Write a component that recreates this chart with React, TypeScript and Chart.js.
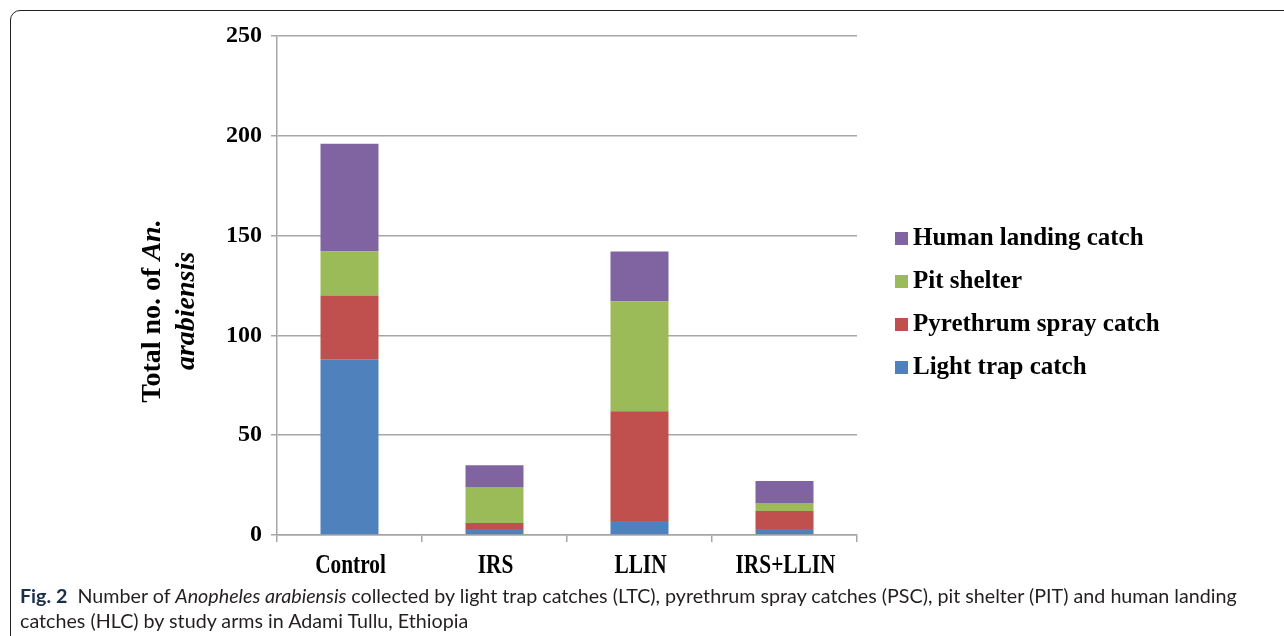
import React, { useEffect, useRef } from "react";
import { Chart, registerables } from "chart.js";

Chart.register(...registerables);

const categories = ["Control", "IRS", "LLIN", "IRS+LLIN"];
const lightTrapCatch = [88, 3, 7, 3];
const pyrethrumSprayCatch = [32, 3, 55, 9];
const pitShelter = [22, 18, 55, 4];
const humanLandingCatch = [54, 11, 25, 11];
const seriesNames = ["Light trap catch", "Pyrethrum spray catch", "Pit shelter", "Human landing catch"];
const seriesColors = ["#4F81BD", "#C0504D", "#9BBB59", "#8064A2"];
const yMax = 250;
const yStep = 50;

const SERIF = "'Liberation Serif', 'Times New Roman', serif";

const customTextPlugin = {
  id: "customText",
  afterDraw(chart: any) {
    const ctx = chart.ctx as CanvasRenderingContext2D;
    ctx.save();
    ctx.fillStyle = "#000";
    // Y axis title, two lines, mixed styles
    const lines = [
      [
        { t: "Total no. of ", f: `bold 28px ${SERIF}` },
        { t: "An.", f: `italic bold 28px ${SERIF}` },
      ],
      [{ t: "arabiensis", f: `italic bold 28px ${SERIF}` }],
    ];
    const xs = [153, 187];
    const cy = 311;
    lines.forEach((parts, li) => {
      let total = 0;
      parts.forEach((p) => {
        ctx.font = p.f;
        total += ctx.measureText(p.t).width;
      });
      ctx.save();
      ctx.translate(xs[li], cy);
      ctx.rotate(-Math.PI / 2);
      ctx.textBaseline = "middle";
      ctx.textAlign = "left";
      let x = -total / 2;
      parts.forEach((p) => {
        ctx.font = p.f;
        ctx.fillText(p.t, x, 0);
        x += ctx.measureText(p.t).width;
      });
      ctx.restore();
    });
    // X category labels (condensed, as in the reference)
    const xs2 = chart.scales.x;
    ctx.font = `bold 27px ${SERIF}`;
    ctx.textAlign = "center";
    ctx.textBaseline = "alphabetic";
    (chart.data.labels as string[]).forEach((lab, i) => {
      const px = xs2.getPixelForValue(i);
      ctx.save();
      ctx.translate(px + 1, 573);
      ctx.scale(0.79, 1);
      ctx.fillText(lab, 0, 0);
      ctx.restore();
    });
    // Legend (reversed order)
    const ds = chart.data.datasets;
    ctx.font = `bold 25px ${SERIF}`;
    ctx.textBaseline = "alphabetic";
    ctx.textAlign = "left";
    for (let i = ds.length - 1; i >= 0; i--) {
      const row = ds.length - 1 - i;
      const base = 245 + row * 43;
      ctx.fillStyle = ds[i].backgroundColor;
      ctx.fillRect(895, base - 13, 13, 13);
      ctx.fillStyle = "#000";
      ctx.fillText(ds[i].label, 913, base);
    }
    ctx.restore();
  },
};

export default function App() {
  const ref = useRef<HTMLCanvasElement | null>(null);

  useEffect(() => {
    document.body.style.margin = "0";
    const canvas = ref.current;
    if (!canvas) return;
    const values = [lightTrapCatch, pyrethrumSprayCatch, pitShelter, humanLandingCatch];
    const chart = new Chart(canvas, {
      type: "bar",
      data: {
        labels: categories,
        datasets: values.map((v, i) => ({
          label: seriesNames[i],
          data: v,
          backgroundColor: seriesColors[i],
          borderWidth: 0,
          barPercentage: 0.4,
          categoryPercentage: 1.0,
        })),
      },
      options: {
        responsive: false,
        animation: false,
        devicePixelRatio: 1,
        layout: { padding: { left: 0, right: 427, top: 36, bottom: 0 } },
        plugins: {
          legend: { display: false },
          tooltip: { enabled: false },
          title: { display: false },
        },
        scales: {
          x: {
            stacked: true,
            afterFit: (scale: any) => {
              scale.height = 101;
            },
            grid: {
              offset: true,
              drawOnChartArea: false,
              drawTicks: true,
              tickLength: 7,
              color: "#a6a6a6",
              lineWidth: 1.5,
            },
            border: { color: "#a6a6a6", width: 1.5 },
            ticks: {
              display: false,
            },
          },
          y: {
            stacked: true,
            min: 0,
            max: yMax,
            afterFit: (scale: any) => {
              scale.width = 277;
            },
            grid: {
              color: "#a6a6a6",
              lineWidth: 1.5,
              drawTicks: true,
              tickLength: 6,
            },
            border: { color: "#a6a6a6", width: 1.5 },
            ticks: {
              stepSize: yStep,
              color: "#000",
              padding: 9,
              font: { family: SERIF, size: 24, weight: "bold" },
            },
          },
        },
      },
      plugins: [customTextPlugin],
    });
    return () => chart.destroy();
  }, []);

  return (
    <div style={{ position: "fixed", left: 0, top: 0, width: 1284, height: 636, overflow: "hidden", background: "#fff" }}>
      <div
        style={{
          position: "absolute",
          left: 10,
          top: 10,
          width: 1320,
          height: 700,
          border: "1.5px solid #222",
          borderRadius: 10,
          boxSizing: "border-box",
        }}
      />
      <canvas
        ref={ref}
        width={1284}
        height={636}
        style={{ position: "absolute", left: 0, top: 0, width: 1284, height: 636 }}
      />
      <div
        style={{
          position: "absolute",
          left: 20,
          top: 583,
          fontFamily: "Lato, 'Noto Sans', sans-serif",
          fontSize: 19.7,
          lineHeight: "25px",
          color: "#231f20",
          whiteSpace: "nowrap",
        }}
      >
        <span style={{ fontWeight: "bold", color: "#1a2f4a" }}>Fig. 2</span>
        {"\u00a0\u00a0Number of "}
        <i>Anopheles arabiensis</i>
        {" collected by light trap catches (LTC), pyrethrum spray catches (PSC), pit shelter (PIT) and human landing"}
        <br />
        {"catches (HLC) by study arms in Adami Tullu, Ethiopia"}
      </div>
    </div>
  );
}
